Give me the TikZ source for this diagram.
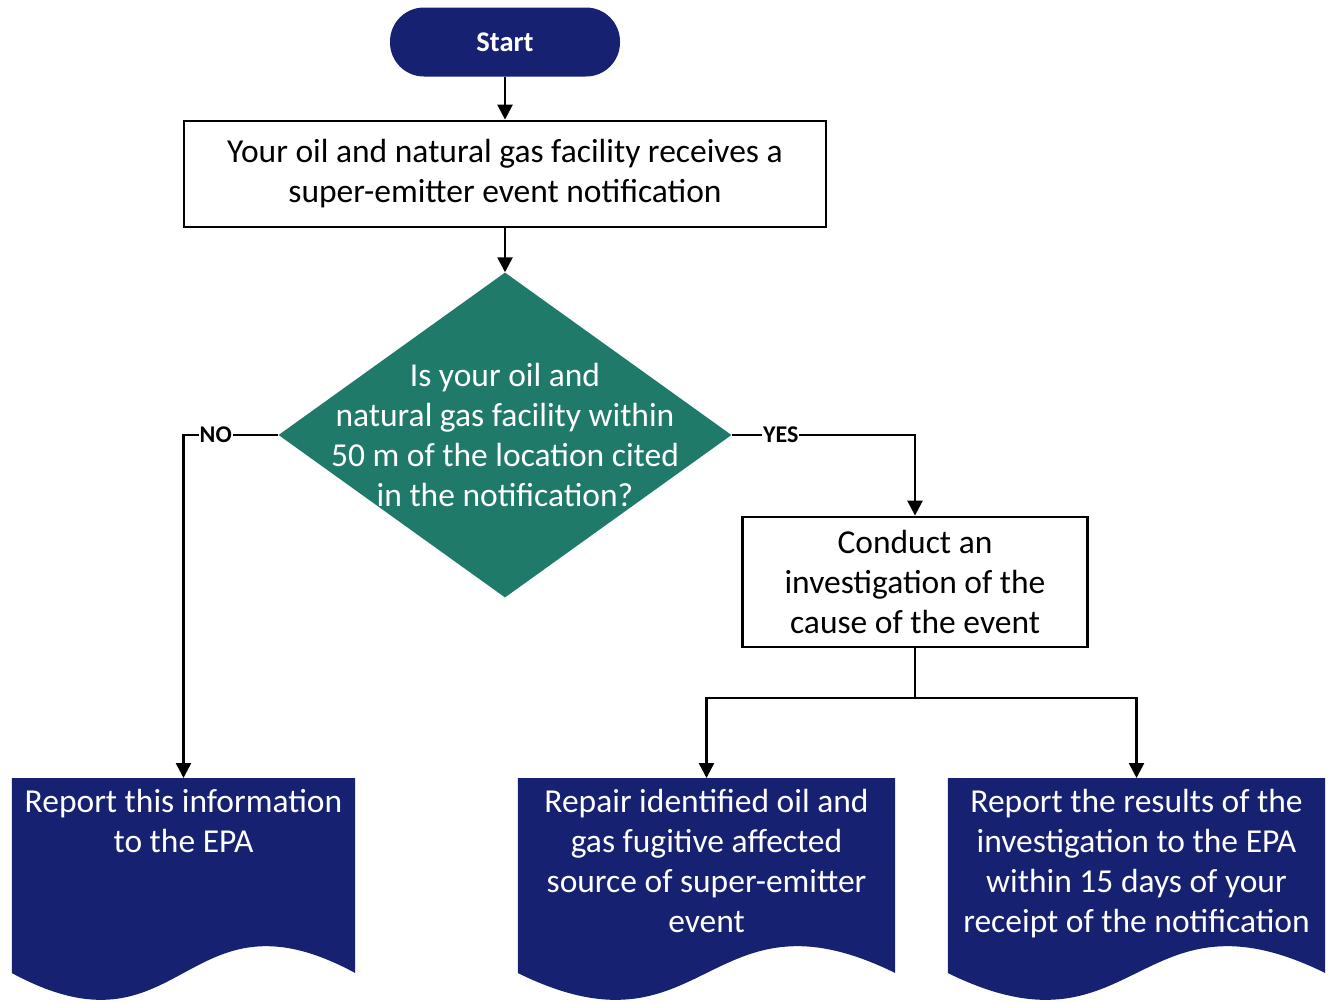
\documentclass[tikz,border=0pt]{standalone}
\usepackage{fontspec}
\setmainfont{Carlito}
\usetikzlibrary{shapes.geometric,arrows.meta,positioning,calc,backgrounds}
\definecolor{epanavy}{RGB}{22,33,114}
\definecolor{epateal}{RGB}{31,122,106}
\tikzset{
  flowline/.style={line width=2.5pt, -{Triangle[width=15pt,length=15pt]}},
  stepbox/.style={draw, line width=2.8pt, align=center, font=\fontsize{33.5}{40}\selectfont},
  docbox/.style={anchor=north, align=center, text=white, inner ysep=11pt, font=\fontsize{33.5}{40}\selectfont},
  answer/.style={fill=white, inner sep=1pt, font=\fontsize{24}{28}\selectfont\bfseries}
}
\begin{document}
\begin{tikzpicture}[x=1pt,y=-1pt]
  \useasboundingbox (0,0) rectangle (1332,1002);
  \node[fill=epanavy, text=white, rounded corners=34pt, minimum width=230pt, minimum height=69pt,
        font=\fontsize{28.5}{32}\selectfont\bfseries] (start) at (505,42) {Start};
  \node[stepbox, minimum width=642pt, minimum height=106pt] (receive) at (505,174)
        {Your oil and natural gas facility receives a\\super-emitter event notification};
  \node[diamond, fill=epateal, minimum width=453pt, minimum height=325pt, inner sep=0pt,
        label={[text=white, align=center, font=\fontsize{33.5}{40}\selectfont]center:Is your oil and\\natural gas facility within\\50 m of the location cited\\in the notification?}] (within) at (505,435) {};
  \node[stepbox, minimum width=345pt, minimum height=130pt] (investigate) at (915,582)
        {Conduct an\\investigation of the\\cause of the event};
  \node[docbox, minimum width=343pt] (reportno) at (183.5,778) {Report this information\\to the EPA};
  \node[docbox, minimum width=377pt] (repair) at (706.5,778)
        {Repair identified oil and\\gas fugitive affected\\source of super-emitter\\event};
  \node[docbox, minimum width=377pt] (reportresults) at (1136.5,778)
        {Report the results of the\\investigation to the EPA\\within 15 days of your\\receipt of the notification};
  \begin{scope}[on background layer]
    \foreach \docnode in {reportno,repair,reportresults}
      \fill[epanavy] (\docnode.north west) -- (\docnode.north east) -- ++(0,195)
        .. controls ($(\docnode.north)+(0,102)$) and ($(\docnode.north)+(0,288)$) .. ($(\docnode.north west)+(0,195)$) -- cycle;
  \end{scope}

  \draw[flowline] (start) -- (receive);
  \draw[flowline] (receive) -- (within);
  \draw[flowline] (within.west) -| node[answer, pos=0.33] {NO} (reportno.north);
  \draw[flowline] (within.east) -| node[answer, pos=0.134] {YES} (investigate.north);
  \coordinate (split) at (investigate.south |- 0,698);
  \draw[line width=2.5pt] (investigate.south) -- (split);
  \draw[flowline] (split) -| (repair.north);
  \draw[flowline] (split) -| (reportresults.north);
\end{tikzpicture}
\end{document}
